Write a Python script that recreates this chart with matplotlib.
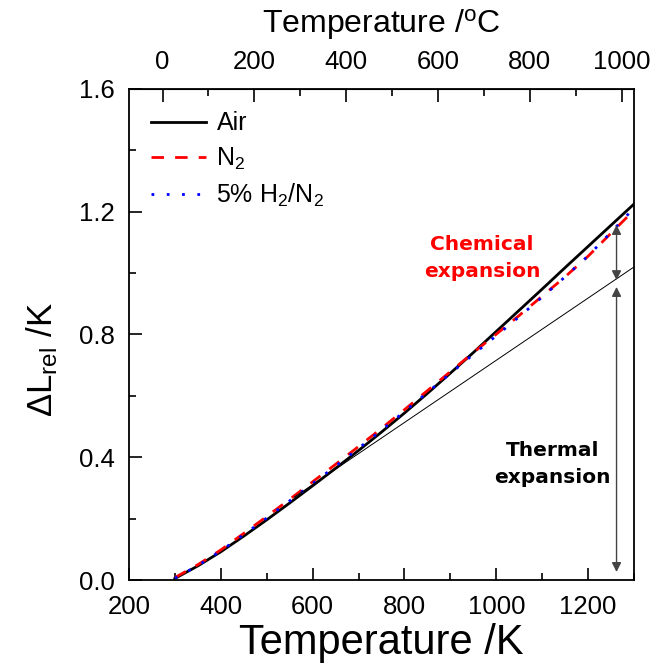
import numpy as np
import matplotlib
matplotlib.use("Agg")
import matplotlib.pyplot as plt
from matplotlib.ticker import MultipleLocator, FixedLocator

plt.rcParams['font.family'] = ['Liberation Sans', 'DejaVu Sans']
plt.rcParams['mathtext.fontset'] = 'custom'
plt.rcParams['mathtext.rm'] = 'Liberation Sans'
plt.rcParams['mathtext.it'] = 'Liberation Sans:italic'

T_K = [300, 350, 400, 450, 500, 550, 600, 650, 700, 750, 800, 850, 900, 950,
       1000, 1050, 1100, 1150, 1200, 1250, 1300]
air = [0.005, 0.046, 0.092, 0.143, 0.196, 0.251, 0.307, 0.364, 0.422, 0.482,
       0.544, 0.608, 0.674, 0.741, 0.81, 0.879, 0.948, 1.018, 1.087, 1.156, 1.225]
n2 = [0.008, 0.05, 0.098, 0.152, 0.207, 0.263, 0.32, 0.377, 0.435, 0.494,
      0.555, 0.617, 0.679, 0.741, 0.801, 0.862, 0.925, 0.988, 1.055, 1.13, 1.205]
h2n2 = [0.006, 0.047, 0.095, 0.148, 0.202, 0.258, 0.314, 0.371, 0.429, 0.488,
        0.549, 0.611, 0.673, 0.735, 0.796, 0.858, 0.922, 0.988, 1.056, 1.133, 1.212]
thermal_T = [560, 1300]
thermal_L = [0.27, 1.02]
arrow_T = 1262
chem_arrow = [1.157, 0.977]
therm_arrow = [0.955, 0.026]
top_major_C = [0, 200, 400, 600, 800, 1000]
top_minor_C = [100, 300, 500, 700, 900]

fig = plt.figure(figsize=(6.67, 6.65), dpi=100)
ax = fig.add_axes([0.1934, 0.1278, 0.7571, 0.7384])

ax.plot(T_K, air, color='black', lw=2.0, label='Air')
ax.plot(T_K, n2, color='red', lw=2.0, dashes=(4.5, 4), label='N$_2$')
ax.plot(T_K, h2n2, color='blue', lw=2.0, dashes=(1, 4.5), label='5% H$_2$/N$_2$')
ax.plot(thermal_T, thermal_L, color='black', lw=0.7)

ap = dict(arrowstyle='<|-|>', color='#444444', lw=1.0, mutation_scale=14,
          shrinkA=0, shrinkB=0)
ax.annotate('', xy=(arrow_T, chem_arrow[0]), xytext=(arrow_T, chem_arrow[1]), arrowprops=ap)
ax.annotate('', xy=(arrow_T, therm_arrow[0]), xytext=(arrow_T, therm_arrow[1]), arrowprops=ap)

ax.text(969, 1.05, 'Chemical\nexpansion', color='red', fontsize=14.5,
        fontweight='bold', family='DejaVu Sans', ha='center', va='center',
        linespacing=1.55)
ax.text(1123, 0.378, 'Thermal\nexpansion', color='black', fontsize=14.5,
        fontweight='bold', family='DejaVu Sans', ha='center', va='center',
        linespacing=1.55)

ax.set_xlim(200, 1300)
ax.set_ylim(0, 1.6)
ax.xaxis.set_major_locator(MultipleLocator(200))
ax.xaxis.set_minor_locator(MultipleLocator(100))
ax.yaxis.set_major_locator(MultipleLocator(0.4))
ax.yaxis.set_minor_locator(MultipleLocator(0.2))
ax.yaxis.set_major_formatter(matplotlib.ticker.FormatStrFormatter('%.1f'))
ax.tick_params(which='both', direction='in', top=False, right=False,
               labelsize=18.5, width=1.2)
ax.tick_params(which='major', length=9)
ax.tick_params(which='minor', length=5)
ax.tick_params(axis='x', which='major', pad=11)
ax.tick_params(axis='y', which='major', pad=10)
for s in ax.spines.values():
    s.set_linewidth(1.3)

ax.set_xlabel('Temperature /K', fontsize=30, labelpad=3)
ax.set_ylabel(r'$\Delta$L$_{\rm rel}$ /K', fontsize=25, labelpad=14)
ax.yaxis.label.set_y(0.45)

sec = ax.secondary_xaxis('top', functions=(lambda k: k - 273.15, lambda c: c + 273.15))
sec.xaxis.set_major_locator(FixedLocator(top_major_C))
sec.xaxis.set_minor_locator(FixedLocator(top_minor_C))
sec.tick_params(which='both', direction='in', labelsize=18.5, width=1.2)
sec.tick_params(which='major', length=9, pad=11)
sec.tick_params(which='minor', length=5)
sec.set_xlabel(r'Temperature /$^{\rm o}$C', fontsize=23, labelpad=12)

ax.legend(loc='upper left', frameon=False, fontsize=18, handlelength=2.2,
          borderaxespad=0.5, handletextpad=0.4, labelspacing=0.4)

fig.savefig('out.png', dpi=100)
